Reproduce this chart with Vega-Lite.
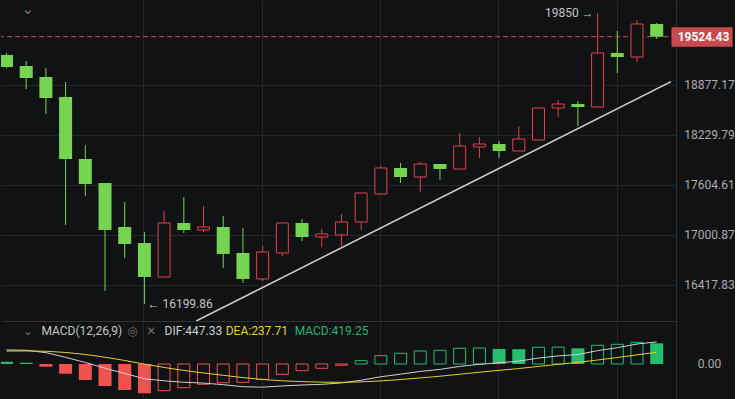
{
  "$schema": "https://vega.github.io/schema/vega-lite/v6.json",
  "background": "#111214",
  "padding": 0,
  "autosize": {"type": "pad"},
  "spacing": 0,
  "config": {
    "view": {"stroke": null},
    "font": "Roboto",
    "axis": {"labelFont": "Roboto", "labelFontSize": 12, "labelColor": "#acacac", "gridColor": "#25272c", "gridWidth": 1, "domainColor": "#2e3136", "title": null}
  },
  "datasets": {
    "candles": [
      {"i": 0, "open": 19276.6, "high": 19303.5, "low": 19102.5, "close": 19115.8},
      {"i": 1, "open": 19129.2, "high": 19196.0, "low": 18824.5, "close": 18969.6},
      {"i": 2, "open": 18982.9, "high": 19102.5, "low": 18499.0, "close": 18706.7},
      {"i": 3, "open": 18719.7, "high": 18916.7, "low": 17120.0, "close": 17927.0},
      {"i": 4, "open": 17927.0, "high": 18103.0, "low": 17470.0, "close": 17616.9},
      {"i": 5, "open": 17629.2, "high": 17629.2, "low": 16349.4, "close": 17060.4},
      {"i": 6, "open": 17096.1, "high": 17397.0, "low": 16730.3, "close": 16894.6},
      {"i": 7, "open": 16906.4, "high": 17036.6, "low": 16199.86, "close": 16509.9},
      {"i": 8, "open": 16509.9, "high": 17288.1, "low": 16509.9, "close": 17143.9},
      {"i": 9, "open": 17143.9, "high": 17457.8, "low": 17024.7, "close": 17060.4},
      {"i": 10, "open": 17060.4, "high": 17348.5, "low": 17036.6, "close": 17096.1},
      {"i": 11, "open": 17096.1, "high": 17227.8, "low": 16614.0, "close": 16777.1},
      {"i": 12, "open": 16788.8, "high": 17084.2, "low": 16440.9, "close": 16486.9},
      {"i": 13, "open": 16486.9, "high": 16871.0, "low": 16463.9, "close": 16800.5},
      {"i": 14, "open": 16788.8, "high": 17143.9, "low": 16753.7, "close": 17143.9},
      {"i": 15, "open": 17143.9, "high": 17191.8, "low": 16930.0, "close": 16977.3},
      {"i": 16, "open": 16977.3, "high": 17072.3, "low": 16859.3, "close": 17012.8},
      {"i": 17, "open": 17001.0, "high": 17251.9, "low": 16871.0, "close": 17155.9},
      {"i": 18, "open": 17155.9, "high": 17506.6, "low": 17060.4, "close": 17506.6},
      {"i": 19, "open": 17494.4, "high": 17839.6, "low": 17494.4, "close": 17814.7},
      {"i": 20, "open": 17814.7, "high": 17877.0, "low": 17629.2, "close": 17703.2},
      {"i": 21, "open": 17703.2, "high": 17889.5, "low": 17518.8, "close": 17864.5},
      {"i": 22, "open": 17864.5, "high": 17864.5, "low": 17666.1, "close": 17802.3},
      {"i": 23, "open": 17802.3, "high": 18255.3, "low": 17802.3, "close": 18090.4},
      {"i": 24, "open": 18077.8, "high": 18204.3, "low": 17939.5, "close": 18115.7},
      {"i": 25, "open": 18115.7, "high": 18153.6, "low": 17939.5, "close": 18027.4},
      {"i": 26, "open": 18027.4, "high": 18344.6, "low": 18027.4, "close": 18179.0},
      {"i": 27, "open": 18166.3, "high": 18589.5, "low": 18166.3, "close": 18576.6},
      {"i": 28, "open": 18576.6, "high": 18680.6, "low": 18460.2, "close": 18628.5},
      {"i": 29, "open": 18628.5, "high": 18667.5, "low": 18344.6, "close": 18589.5},
      {"i": 30, "open": 18589.5, "high": 19850, "low": 18589.5, "close": 19303.5},
      {"i": 31, "open": 19303.5, "high": 19602.2, "low": 19035.9, "close": 19249.7},
      {"i": 32, "open": 19249.7, "high": 19753.3, "low": 19182.7, "close": 19698.2},
      {"i": 33, "open": 19698.2, "high": 19711.9, "low": 19493.0, "close": 19524.43}
    ],
    "macd": [
      {"i": 0, "dif": 284.44, "dea": 261.94, "hist": 45},
      {"i": 1, "dif": 277.57, "dea": 265.07, "hist": 25},
      {"i": 2, "dif": 230.69, "dea": 258.19, "hist": -55},
      {"i": 3, "dif": 135.69, "dea": 233.69, "hist": -196},
      {"i": 4, "dif": 31.19, "dea": 193.19, "hist": -324},
      {"i": 5, "dif": -85.56, "dea": 137.44, "hist": -446},
      {"i": 6, "dif": -191.94, "dea": 71.56, "hist": -527},
      {"i": 7, "dif": -299.07, "dea": -2.57, "hist": -593},
      {"i": 8, "dif": -340.7, "dea": -70.2, "hist": -541},
      {"i": 9, "dif": -370.2, "dea": -130.2, "hist": -480},
      {"i": 10, "dif": -387.08, "dea": -181.58, "hist": -411},
      {"i": 11, "dif": -418.46, "dea": -228.96, "hist": -379},
      {"i": 12, "dif": -460.84, "dea": -275.34, "hist": -371},
      {"i": 13, "dif": -469.09, "dea": -314.09, "hist": -310},
      {"i": 14, "dif": -444.72, "dea": -340.22, "hist": -209},
      {"i": 15, "dif": -425.22, "dea": -357.22, "hist": -136},
      {"i": 16, "dif": -411.6, "dea": -368.1, "hist": -87},
      {"i": 17, "dif": -383.73, "dea": -371.23, "hist": -25},
      {"i": 18, "dif": -329.35, "dea": -362.85, "hist": 67},
      {"i": 19, "dif": -257.85, "dea": -341.85, "hist": 168},
      {"i": 20, "dif": -206.22, "dea": -314.72, "hist": 217},
      {"i": 21, "dif": -150.34, "dea": -281.84, "hist": 263},
      {"i": 22, "dif": -109.34, "dea": -247.34, "hist": 276},
      {"i": 23, "dif": -48.59, "dea": -207.59, "hist": 318},
      {"i": 24, "dif": -5.09, "dea": -167.09, "hist": 324},
      {"i": 25, "dif": 22.91, "dea": -129.09, "hist": 304},
      {"i": 26, "dif": 58.41, "dea": -91.59, "hist": 300},
      {"i": 27, "dif": 119.66, "dea": -49.34, "hist": 338},
      {"i": 28, "dif": 164.41, "dea": -6.59, "hist": 342},
      {"i": 29, "dif": 192.16, "dea": 33.16, "hist": 318},
      {"i": 30, "dif": 270.04, "dea": 80.54, "hist": 379},
      {"i": 31, "dif": 329.92, "dea": 130.42, "hist": 399},
      {"i": 32, "dif": 404.8, "dea": 185.3, "hist": 439},
      {"i": 33, "dif": 447.33, "dea": 237.71, "hist": 419.25}
    ]
  },
  "vconcat": [
    {
      "width": 675,
      "height": 321,
      "encoding": {
        "x": {"type": "quantitative", "scale": {"domain": [-0.025, 33.725], "nice": false, "zero": false},
              "axis": {"values": [6.925, 12.975, 18.975, 24.925, 30.975], "grid": true, "labels": false, "ticks": false, "domain": true, "title": null, "orient": "bottom"}},
        "y": {"type": "quantitative", "scale": {"type": "log", "domain": [16010.3, 20030.9], "nice": false, "zero": false},
              "axis": {"orient": "right", "values": [16417.83, 17000.87, 17604.61, 18229.79, 18877.17], "format": ".2f", "grid": true, "ticks": false, "domain": true, "labelAlign": "center", "labelPadding": 33, "labelBaseline": "middle", "title": null}}
      },
      "layer": [
        {
          "data": {"name": "candles"},
          "mark": {"type": "rule", "strokeWidth": 1, "clip": true},
          "encoding": {
            "x": {"field": "i"},
            "y": {"field": "low"},
            "y2": {"field": "high"},
            "color": {"condition": {"test": "datum.close >= datum.open", "value": "#e5404a"}, "value": "#76d550"}
          }
        },
        {
          "data": {"values": [{"price": 19524.43}]},
          "mark": {"type": "rule", "color": "#c94a4d", "strokeDash": [5, 3], "strokeWidth": 1},
          "encoding": {
            "x": null,
            "y": {"field": "price"}
          }
        },
        {
          "data": {"values": [{"i": 9.625, "p": 16010.3}, {"i": 33.725, "p": 18920.7}]},
          "mark": {"type": "line", "color": "#d2d2d2", "strokeWidth": 1.5, "clip": true},
          "encoding": {
            "x": {"field": "i"},
            "y": {"field": "p"}
          }
        },
        {
          "data": {"name": "candles"},
          "transform": [{"filter": "datum.close < datum.open"}],
          "mark": {"type": "bar", "width": 13, "fill": "#76d550", "clip": true},
          "encoding": {
            "x": {"field": "i"},
            "y": {"field": "open"},
            "y2": {"field": "close"}
          }
        },
        {
          "data": {"name": "candles"},
          "transform": [{"filter": "datum.close >= datum.open"}],
          "mark": {"type": "bar", "width": 12, "fill": "#111214", "stroke": "#e5404a", "strokeWidth": 1, "clip": true},
          "encoding": {
            "x": {"field": "i"},
            "y": {"field": "open"},
            "y2": {"field": "close"}
          }
        },
        {
          "data": {"values": [{"i": 30, "v": 19850, "label": "19850 →"}]},
          "mark": {"type": "text", "align": "right", "baseline": "middle", "dx": -4, "color": "#c4c4c4", "fontSize": 12},
          "encoding": {
            "x": {"field": "i"},
            "y": {"field": "v"},
            "text": {"field": "label"}
          }
        },
        {
          "data": {"values": [{"i": 7, "v": 16199.86, "label": "← 16199.86"}]},
          "mark": {"type": "text", "align": "left", "baseline": "middle", "dx": 3, "color": "#c4c4c4", "fontSize": 12},
          "encoding": {
            "x": {"field": "i"},
            "y": {"field": "v"},
            "text": {"field": "label"}
          }
        },
        {
          "data": {"values": [{"i": 1.075, "v": 19863.9, "label": "⌄"}]},
          "mark": {"type": "text", "align": "center", "baseline": "middle", "color": "#7a7a7a", "fontSize": 15, "font": "DejaVu Sans", "dy": -3},
          "encoding": {
            "x": {"field": "i"},
            "y": {"field": "v"},
            "text": {"field": "label"}
          }
        },
        {
          "data": {"values": [{"a": 33.75, "b": 36.85, "lo": 19388.6, "hi": 19652.9}]},
          "mark": {"type": "rect", "fill": "#c94a4d"},
          "encoding": {
            "x": {"field": "a"},
            "x2": {"field": "b"},
            "y": {"field": "lo"},
            "y2": {"field": "hi"}
          }
        },
        {
          "data": {"values": [{"i": 35.375, "v": 19524.43, "label": "19524.43"}]},
          "mark": {"type": "text", "align": "center", "baseline": "middle", "color": "#ffffff", "fontSize": 12, "fontWeight": "bold"},
          "encoding": {
            "x": {"field": "i"},
            "y": {"field": "v"},
            "text": {"field": "label"}
          }
        }
      ]
    },
    {
      "width": 675,
      "height": 78,
      "encoding": {
        "x": {"type": "quantitative", "scale": {"domain": [-0.025, 33.725], "nice": false, "zero": false},
              "axis": {"values": [6.925, 12.975, 18.975, 24.925, 30.975], "grid": true, "labels": false, "ticks": false, "domain": false, "title": null}},
        "y": {"type": "quantitative", "scale": {"domain": [-709, 871], "nice": false, "zero": false},
              "axis": {"orient": "right", "values": [0], "format": ".2f", "grid": false, "ticks": false, "domain": true, "labelAlign": "center", "labelPadding": 33, "labelBaseline": "middle", "title": null}}
      },
      "layer": [
        {
          "data": {"name": "macd"},
          "transform": [
            {"window": [{"op": "lag", "field": "hist", "as": "prev"}], "sort": [{"field": "i"}]},
            {"filter": "datum.prev == null || datum.hist < datum.prev"}
          ],
          "mark": {"type": "bar", "width": 13, "clip": true},
          "encoding": {
            "x": {"field": "i"},
            "y": {"field": "hist"},
            "y2": {"datum": 0},
            "fill": {"condition": {"test": "datum.hist >= 0", "value": "#24be6e"}, "value": "#ef5350"}
          }
        },
        {
          "data": {"name": "macd"},
          "transform": [
            {"window": [{"op": "lag", "field": "hist", "as": "prev"}], "sort": [{"field": "i"}]},
            {"filter": "datum.prev != null && datum.hist >= datum.prev"}
          ],
          "mark": {"type": "bar", "width": 12, "fill": "#111214", "strokeWidth": 1, "clip": true},
          "encoding": {
            "x": {"field": "i"},
            "y": {"field": "hist"},
            "y2": {"datum": 0},
            "stroke": {"condition": {"test": "datum.hist >= 0", "value": "#24be6e"}, "value": "#ef5350"}
          }
        },
        {
          "data": {"name": "macd"},
          "mark": {"type": "line", "color": "#d0d0d6", "strokeWidth": 1, "clip": true},
          "encoding": {
            "x": {"field": "i"},
            "y": {"field": "dif"}
          }
        },
        {
          "data": {"name": "macd"},
          "mark": {"type": "line", "color": "#e3d22a", "strokeWidth": 1, "clip": true},
          "encoding": {
            "x": {"field": "i"},
            "y": {"field": "dea"}
          }
        },
        {
          "data": {"values": [
            {"i": 1.075, "v": 668, "label": "⌄", "k": "chev"},
            {"i": 6.4, "v": 668, "label": "◎", "k": "gear"},
            {"i": 7.35, "v": 668, "label": "✕", "k": "close"}
          ]},
          "mark": {"type": "text", "align": "center", "baseline": "middle", "color": "#6f6f6f", "fontSize": 12, "font": "DejaVu Sans"},
          "encoding": {
            "x": {"field": "i"},
            "y": {"field": "v"},
            "text": {"field": "label"}
          }
        },
        {
          "data": {"values": [
            {"i": 1.775, "v": 668, "label": "MACD(12,26,9)", "k": "name"},
            {"i": 8.025, "v": 668, "label": "DIF:447.33", "k": "dif"},
            {"i": 11.125, "v": 668, "label": "DEA:237.71", "k": "dea"},
            {"i": 14.625, "v": 668, "label": "MACD:419.25", "k": "macd"}
          ]},
          "mark": {"type": "text", "align": "left", "baseline": "middle", "fontSize": 12},
          "encoding": {
            "x": {"field": "i"},
            "y": {"field": "v"},
            "text": {"field": "label"},
            "color": {"field": "k", "type": "nominal", "legend": null,
                      "scale": {"domain": ["name", "dif", "dea", "macd"], "range": ["#c5c5c5", "#d0d0d0", "#e3d22a", "#26b56d"]}}
          }
        }
      ]
    }
  ]
}
